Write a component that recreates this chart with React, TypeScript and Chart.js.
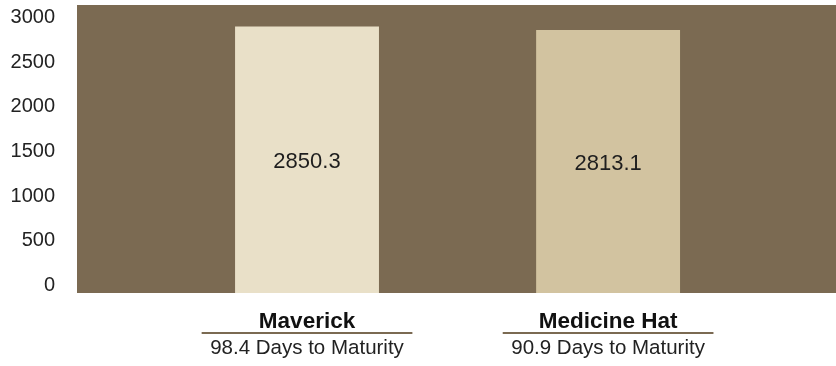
import React, { useEffect, useRef } from "react";
import { Chart, registerables } from "chart.js";

Chart.register(...registerables);

const categories = ["Maverick", "Medicine Hat"];
const subLabels = ["98.4 Days to Maturity", "90.9 Days to Maturity"];
const yieldValues = [2850.3, 2813.1];
const valueLabels = ["2850.3", "2813.1"];
const barColors = ["#E9E0C8", "#D2C3A0"];
const yTicks = [0, 500, 1000, 1500, 2000, 2500, 3000];

const FONT = "'Liberation Sans', Arial, Helvetica, sans-serif";
const BG = "#7B6A52";

const backgroundPlugin = {
  id: "plotBg",
  beforeDraw(chart: any) {
    const { ctx, chartArea } = chart;
    ctx.save();
    ctx.fillStyle = BG;
    ctx.fillRect(chartArea.left, chartArea.top, chartArea.right - chartArea.left, chartArea.bottom - chartArea.top);
    ctx.restore();
  },
};

const labelsPlugin = {
  id: "customLabels",
  afterDraw(chart: any) {
    const { ctx, chartArea } = chart;
    const xs = chart.scales.x;
    const meta = chart.getDatasetMeta(0);
    ctx.save();
    ctx.fillStyle = "#1e1e1e";
    ctx.textAlign = "center";
    ctx.textBaseline = "middle";
    ctx.font = `22px ${FONT}`;
    meta.data.forEach((bar: any, i: number) => {
      const c = bar.getCenterPoint();
      ctx.fillText(valueLabels[i], c.x, c.y + 2);
    });
    const half = (xs.getPixelForValue(0.35) - xs.getPixelForValue(-0.35)) / 2;
    categories.forEach((name, i) => {
      const x = xs.getPixelForValue(i);
      ctx.textBaseline = "alphabetic";
      ctx.fillStyle = "#111";
      ctx.font = `bold 22.5px ${FONT}`;
      ctx.fillText(name, x, chartArea.bottom + 35);
      ctx.strokeStyle = BG;
      ctx.lineWidth = 2;
      ctx.beginPath();
      ctx.moveTo(x - half, chartArea.bottom + 40);
      ctx.lineTo(x + half, chartArea.bottom + 40);
      ctx.stroke();
      ctx.fillStyle = "#222";
      ctx.font = `20.5px ${FONT}`;
      ctx.fillText(subLabels[i], x, chartArea.bottom + 61);
    });
    ctx.restore();
  },
};

export default function App() {
  const ref = useRef<HTMLCanvasElement | null>(null);
  useEffect(() => {
    if (!ref.current) return;
    const chart = new Chart(ref.current, {
      type: "bar",
      data: {
        datasets: [
          {
            data: yieldValues.map((v, i) => ({ x: i, y: v })) as any,
            backgroundColor: barColors,
            borderWidth: 0,
            barPercentage: 0.478,
            categoryPercentage: 1,
            yAxisID: "y",
          },
        ],
      },
      options: {
        animation: false,
        responsive: true,
        maintainAspectRatio: false,
        layout: { padding: { top: 5, bottom: 73, left: 0, right: 0 } },
        plugins: { legend: { display: false }, tooltip: { enabled: false } },
        scales: {
          x: {
            type: "linear",
            min: -0.764,
            max: 1.757,
            offset: false,
            display: false,
            afterBuildTicks: (scale: any) => {
              scale.ticks = categories.map((_, i) => ({ value: i }));
            },
          },
          y: { type: "linear", min: 0, max: 3080, display: false },
          yL: {
            type: "linear",
            axis: "y",
            position: "left",
            min: -84,
            max: 3140,
            grid: { display: false, drawTicks: false },
            border: { display: false },
            afterBuildTicks: (scale: any) => {
              scale.ticks = yTicks.map((v) => ({ value: v }));
            },
            afterFit: (scale: any) => {
              scale.width = 77;
              scale.paddingTop = 0;
              scale.paddingBottom = 0;
            },
            ticks: {
              padding: 22,
              color: "#222",
              font: { family: FONT, size: 20 },
              callback: (v: any) => String(v),
            },
          },
        },
      } as any,
      plugins: [backgroundPlugin, labelsPlugin],
    });
    return () => chart.destroy();
  }, []);
  return (
    <div style={{ position: "absolute", left: 0, top: 0, width: 836, height: 366, background: "#fff" }}>
      <canvas ref={ref} />
    </div>
  );
}
